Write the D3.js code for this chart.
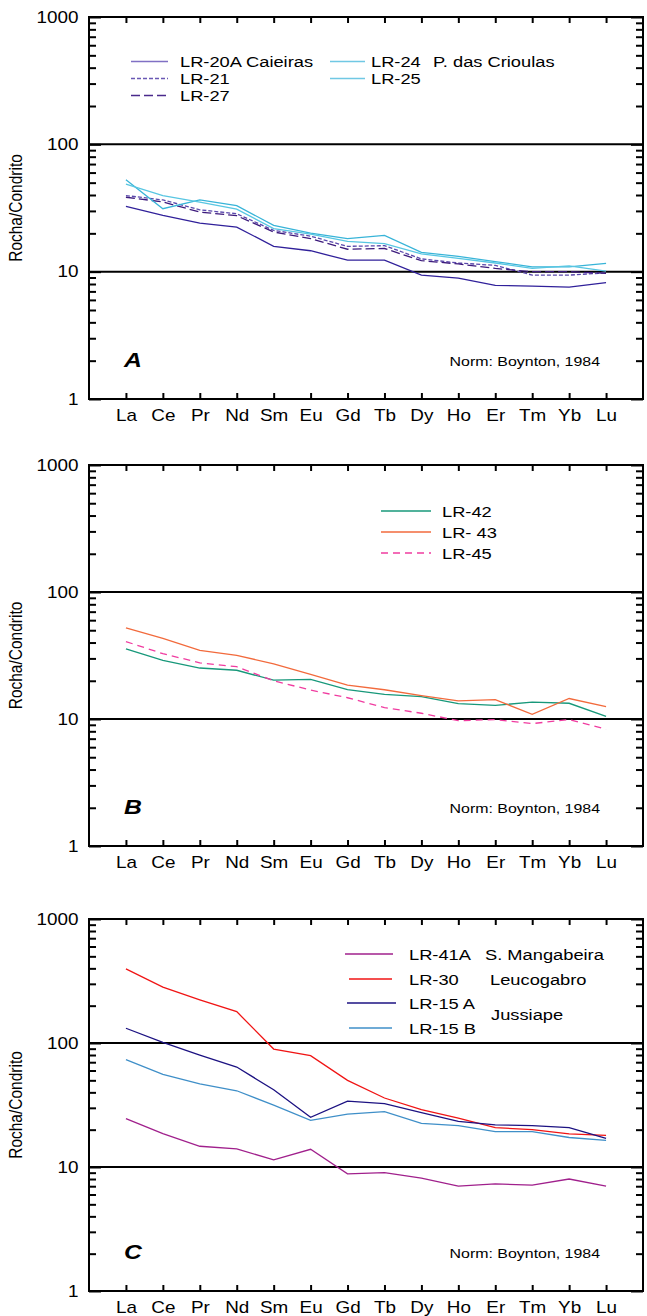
<!DOCTYPE html>
<html lang="pt">
<head>
  <meta charset="UTF-8">
  <title>Rocha/Condrito</title>
  <style>
    body { margin: 0; background: #fff; }
    text { font-family: 'Liberation Sans', Arial, sans-serif; fill: #000; }
  </style>
</head>
<body>
  <svg id="svg" width="647" height="1316"></svg>
  <script src="https://d3js.org/d3.v7.min.js"></script>
  <script>
    const elements = ['La', 'Ce', 'Pr', 'Nd', 'Sm', 'Eu', 'Gd', 'Tb', 'Dy', 'Ho', 'Er', 'Tm', 'Yb', 'Lu']
    const majorTicks = [1, 10, 100, 1000]
    const refLines = [10, 100]

    // painel A
    const lr20a = [32.5, 27.7, 24.1, 22.4, 15.8, 14.6, 12.3, 12.3, 9.4, 8.9, 7.8, 7.7, 7.55, 8.2]
    const lr21 = [39.6, 36.6, 30.6, 28.5, 21.1, 19, 15.8, 16, 12.6, 11.7, 11.2, 9.4, 9.4, 9.8]
    const lr27 = [38.4, 35.3, 29.4, 27.5, 20.5, 18.2, 15, 15.2, 12.2, 11.5, 10.6, 10, 10, 9.7]
    const lr24 = [52.6, 31.2, 36.6, 33, 23.1, 20.1, 18.2, 19.3, 14.2, 13.2, 12, 10.9, 10.9, 11.6]
    const lr25 = [48.7, 39.6, 35.1, 31, 21.8, 19.7, 17.3, 16.6, 13.8, 12.7, 11.7, 10.6, 11.1, 10.1]

    // painel B
    const lr42 = [35.7, 29, 25.2, 24.2, 20.2, 20.5, 17, 15.6, 15, 13.2, 12.8, 13.6, 13.3, 10.5]
    const lr43 = [52.2, 43.1, 34.7, 31.7, 27.2, 22.5, 18.5, 17, 15.3, 13.9, 14.2, 10.9, 14.5, 12.5]
    const lr45 = [40.7, 32.7, 27.7, 25.8, 20, 16.9, 14.7, 12.3, 11.1, 9.7, 9.9, 9.2, 9.9, 8.3]

    // painel C
    const lr41a = [24.6, 18.6, 14.7, 14, 11.4, 13.9, 8.8, 9, 8.15, 7, 7.3, 7.15, 8, 7]
    const lr30 = [396, 282, 223, 179, 89.4, 79, 50, 36, 29, 24.8, 20.8, 20, 18.5, 18]
    const lr15a = [131.5, 101, 80, 64, 42, 25.2, 34, 32.5, 27.5, 23.3, 21.9, 21.6, 20.8, 17]
    const lr15b = [73.3, 55.8, 46.9, 41.2, 31.5, 23.8, 26.7, 28, 22.5, 21.6, 19.3, 19.3, 17.3, 16.4]

    const svg = d3.select('#svg')
    const left = 89
    const right = 643
    const stretch = 'scale(1.18,1)'

    const minorTicks = []
    for (let e = 0; e < 3; e++) {
      for (let m = 2; m <= 9; m++) minorTicks.push(m * Math.pow(10, e))
    }

    const xScale = d3.scalePoint()
      .domain(elements)
      .range([left, right])
      .padding(1)

    function drawPanel(top, bottom, letter, series) {
      const yScale = d3.scaleLog()
        .domain([1, 1000])
        .range([bottom, top])

      const g = svg.append('g')

      // ticks x (para dentro)
      g.append('g')
        .attr('transform', `translate(0,${bottom})`)
        .call(d3.axisBottom(xScale).tickSize(-6).tickPadding(11))
        .call(a => a.select('.domain').remove())
        .call(a => a.selectAll('text').attr('font-size', 16).attr('transform', stretch))
      g.append('g')
        .attr('transform', `translate(0,${top})`)
        .call(d3.axisTop(xScale).tickSize(-6).tickFormat(''))
        .call(a => a.select('.domain').remove())

      // ticks y menores
      g.append('g')
        .attr('transform', `translate(${left},0)`)
        .call(d3.axisLeft(yScale).tickValues(minorTicks).tickSize(-7).tickFormat(''))
        .call(a => a.select('.domain').remove())
      g.append('g')
        .attr('transform', `translate(${right},0)`)
        .call(d3.axisRight(yScale).tickValues(minorTicks).tickSize(-7).tickFormat(''))
        .call(a => a.select('.domain').remove())

      // ticks y maiores + rótulos
      g.append('g')
        .attr('transform', `translate(${left},0)`)
        .call(d3.axisLeft(yScale).tickValues(majorTicks).tickSize(-12).tickPadding(9).tickFormat(d3.format('d')))
        .call(a => a.select('.domain').remove())
        .call(a => a.selectAll('text').attr('font-size', 16).attr('transform', stretch))
      g.append('g')
        .attr('transform', `translate(${right},0)`)
        .call(d3.axisRight(yScale).tickValues(majorTicks).tickSize(-12).tickFormat(''))
        .call(a => a.select('.domain').remove())

      g.selectAll('.tick line').attr('stroke', '#000').attr('stroke-width', 2)

      // linhas de referência 10 e 100
      g.selectAll('.ref')
        .data(refLines)
        .enter()
        .append('line')
        .attr('x1', left)
        .attr('x2', right)
        .attr('y1', d => yScale(d))
        .attr('y2', d => yScale(d))
        .attr('stroke', '#000')
        .attr('stroke-width', 2)

      g.append('rect')
        .attr('x', left)
        .attr('y', top)
        .attr('width', right - left)
        .attr('height', bottom - top)
        .attr('fill', 'none')
        .attr('stroke', '#000')
        .attr('stroke-width', 2)

      const line = d3.line()
        .x((d, i) => xScale(elements[i]))
        .y(d => yScale(d))

      g.selectAll('.serie')
        .data(series)
        .enter()
        .append('path')
        .attr('d', d => line(d.values))
        .attr('fill', 'none')
        .attr('stroke', d => d.color)
        .attr('stroke-width', 1.3)
        .attr('stroke-dasharray', d => d.dash || null)

      g.append('text')
        .attr('transform', `translate(22,${(top + bottom) / 2}) ${stretch} rotate(-90)`)
        .attr('text-anchor', 'middle')
        .attr('font-size', 15.5)
        .text('Rocha/Condrito')

      g.append('text')
        .attr('transform', `translate(124,${bottom - 32}) ${stretch}`)
        .attr('font-size', 21)
        .attr('font-weight', 'bold')
        .attr('font-style', 'italic')
        .text(letter)

      g.append('text')
        .attr('transform', `translate(600,${bottom - 33}) ${stretch}`)
        .attr('text-anchor', 'end')
        .attr('font-size', 13.5)
        .text('Norm: Boynton, 1984')

      return g
    }

    function legendRow(g, x1, x2, y, color, dash, label, tx) {
      g.append('line')
        .attr('x1', x1)
        .attr('x2', x2)
        .attr('y1', y)
        .attr('y2', y)
        .attr('stroke', color)
        .attr('stroke-width', 1.5)
        .attr('stroke-dasharray', dash || null)
      g.append('text')
        .attr('transform', `translate(${tx},${y}) ${stretch}`)
        .attr('dy', '0.36em')
        .attr('font-size', 15.5)
        .text(label)
    }

    function legendText(g, x, y, label) {
      g.append('text')
        .attr('transform', `translate(${x},${y}) ${stretch}`)
        .attr('dy', '0.36em')
        .attr('font-size', 15.5)
        .text(label)
    }

    // A
    const gA = drawPanel(17, 399, 'A', [
      { values: lr20a, color: '#30209a' },
      { values: lr21, color: '#5a48ac', dash: '4,2' },
      { values: lr27, color: '#3c1a7c', dash: '9,4' },
      { values: lr24, color: '#38b4d8' },
      { values: lr25, color: '#58c6e2' }
    ])
    legendRow(gA, 131, 168, 61.5, '#8070c4', null, 'LR-20A Caieiras', 180)
    legendRow(gA, 131, 168, 78.5, '#6a58b4', '4,2', 'LR-21', 180)
    legendRow(gA, 131, 168, 95.5, '#4a2a8c', '9,4', 'LR-27', 180)
    legendRow(gA, 330, 365, 61.5, '#70c8e4', null, 'LR-24', 371)
    legendText(gA, 433, 61.5, 'P. das Crioulas')
    legendRow(gA, 330, 365, 78.5, '#70c8e4', null, 'LR-25', 371)

    // B
    const gB = drawPanel(465, 846, 'B', [
      { values: lr42, color: '#17987a' },
      { values: lr43, color: '#f26a3c' },
      { values: lr45, color: '#f03ca0', dash: '7,5' }
    ])
    legendRow(gB, 381, 431, 511, '#17987a', null, 'LR-42', 442)
    legendRow(gB, 381, 431, 532, '#f26a3c', null, 'LR- 43', 442)
    legendRow(gB, 381, 431, 553, '#f03ca0', '7,5', 'LR-45', 442)

    // C
    const gC = drawPanel(919, 1291, 'C', [
      { values: lr41a, color: '#a0208c' },
      { values: lr30, color: '#f01414' },
      { values: lr15a, color: '#1c1282' },
      { values: lr15b, color: '#3f8fc8' }
    ])
    legendRow(gC, 345, 393, 954, '#a0208c', null, 'LR-41A', 409)
    legendText(gC, 485, 954, 'S. Mangabeira')
    legendRow(gC, 349, 392, 979, '#f01414', null, 'LR-30', 409)
    legendText(gC, 490, 979, 'Leucogabro')
    legendRow(gC, 347, 396, 1003, '#1c1282', null, 'LR-15 A', 409)
    legendRow(gC, 349, 392, 1028, '#3f8fc8', null, 'LR-15 B', 409)
    legendText(gC, 491, 1014, 'Jussiape')
  </script>
</body>
</html>
